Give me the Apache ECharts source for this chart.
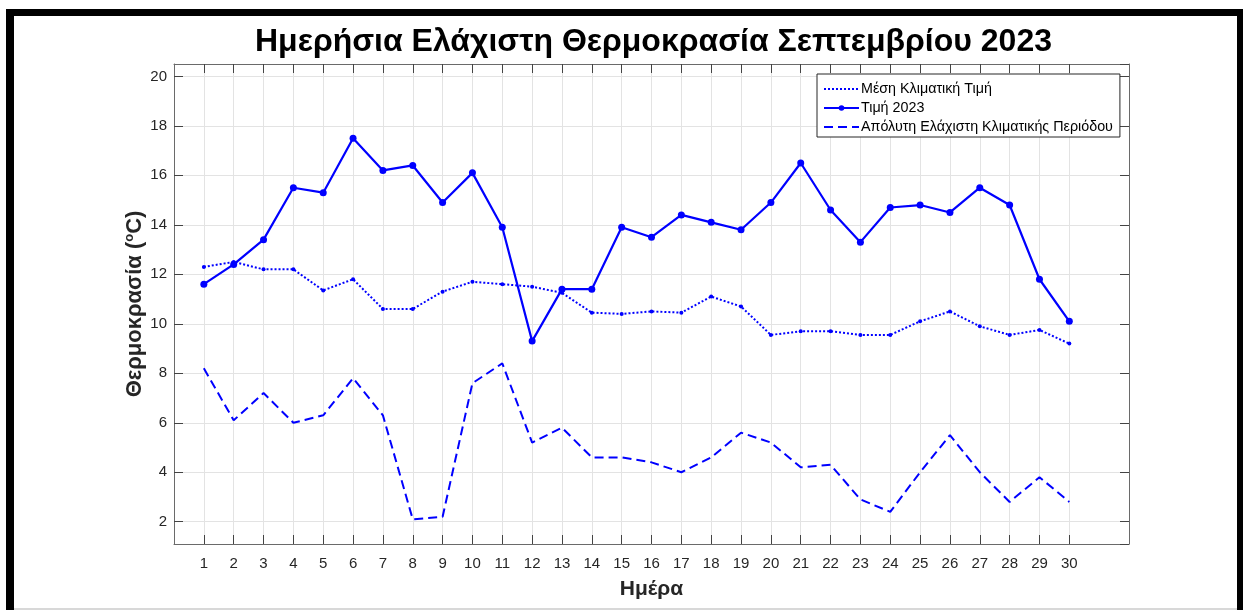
<!DOCTYPE html>
<html>
<head>
<meta charset="utf-8">
<script src="https://cdn.jsdelivr.net/npm/echarts@6/dist/echarts.min.js"></script>
<style>
  html, body { margin: 0; padding: 0; background: #fff; }
  #chart { width: 1243px; height: 610px; }
</style>
</head>
<body>
<div id="chart"></div>
<script>
// days of September 2023
const days = [1, 2, 3, 4, 5, 6, 7, 8, 9, 10, 11, 12, 13, 14, 15, 16, 17, 18, 19, 20, 21, 22, 23, 24, 25, 26, 27, 28, 29, 30];
// climatological mean of the daily minimum
const meanClim = [12.3, 12.5, 12.2, 12.2, 11.35, 11.8, 10.6, 10.6, 11.3, 11.7, 11.6, 11.5, 11.25, 10.45, 10.4, 10.5, 10.45, 11.1, 10.7, 9.55, 9.7, 9.7, 9.55, 9.55, 10.1, 10.5, 9.9, 9.55, 9.75, 9.2];
// 2023 values
const value2023 = [11.6, 12.4, 13.4, 15.5, 15.3, 17.5, 16.2, 16.4, 14.9, 16.1, 13.9, 9.3, 11.4, 11.4, 13.9, 13.5, 14.4, 14.1, 13.8, 14.9, 16.5, 14.6, 13.3, 14.7, 14.8, 14.5, 15.5, 14.8, 11.8, 10.1];
// absolute minimum of the climate period
const absMin = [8.2, 6.1, 7.2, 6.0, 6.3, 7.8, 6.3, 2.1, 2.2, 7.6, 8.4, 5.2, 5.8, 4.6, 4.6, 4.4, 4.0, 4.6, 5.6, 5.2, 4.2, 4.3, 2.9, 2.4, 4.0, 5.5, 4.0, 2.8, 3.8, 2.8];
const seriesNames = ['Μέση Κλιματική Τιμή', 'Τιμή 2023', 'Απόλυτη Ελάχιστη Κλιματικής Περιόδου'];

// x limits 0..32, ticks only on the days
const axisCats = [0].concat(days, [31, 32]).map(String);
const isDay = (idx) => idx >= 1 && idx <= days.length;

const yMin = 1.1;
const yMax = 20.5;

const blue = '#0000ff';
const axisColor = '#6a6a6a';
const textColor = '#262626';
const gridColor = '#e3e3e3';

const pairs = (vals) => days.map((d, i) => [String(d), vals[i]]);

const chart = echarts.init(document.getElementById('chart'));

const option = {
  animation: false,
  backgroundColor: '#fff',
  textStyle: { fontFamily: 'Liberation Sans, Arial, sans-serif' },
  title: {
    text: 'Ημερήσια Ελάχιστη Θερμοκρασία Σεπτεμβρίου 2023',
    left: 250,
    top: 21,
    textStyle: { fontSize: 32, fontWeight: 'bold', color: '#000' }
  },
  grid: { left: 174, right: 114, top: 64, bottom: 66 },
  legend: {
    orient: 'vertical',
    left: 817,
    top: 74,
    padding: [8, 7, 3, 6],
    itemGap: 5,
    itemWidth: 35,
    itemHeight: 7,
    borderColor: '#262626',
    borderWidth: 1,
    backgroundColor: '#fff',
    align: 'left',
    textStyle: { fontSize: 14.3, lineHeight: 14, color: '#000', padding: [0, 0, 0, -3] },
    data: [
      { name: seriesNames[0], itemStyle: { opacity: 0 } },
      { name: seriesNames[1] },
      { name: seriesNames[2], itemStyle: { opacity: 0 } }
    ]
  },
  xAxis: [
    {
      type: 'category',
      boundaryGap: false,
      data: axisCats,
      name: 'Ημέρα',
      nameLocation: 'middle',
      nameGap: 35,
      nameTextStyle: { fontSize: 21, fontWeight: 'bold', color: textColor },
      axisLine: { show: true, lineStyle: { color: axisColor } },
      axisTick: { show: true, inside: true, length: 9, interval: isDay, lineStyle: { color: '#444' } },
      axisLabel: { show: true, fontSize: 15, color: textColor, margin: 12, interval: isDay },
      splitLine: { show: true, interval: isDay, lineStyle: { color: gridColor } }
    },
    {
      type: 'category',
      position: 'top',
      boundaryGap: false,
      data: axisCats,
      axisLine: { show: true, lineStyle: { color: axisColor } },
      axisTick: { show: true, inside: true, length: 9, interval: isDay, lineStyle: { color: '#444' } },
      axisLabel: { show: false },
      splitLine: { show: false }
    }
  ],
  yAxis: [
    {
      type: 'value',
      min: yMin,
      max: yMax,
      splitNumber: 10,
      name: 'Θερμοκρασία ({sup|o}C)',
      nameLocation: 'middle',
      nameGap: 27,
      nameMoveOverlap: false,
      nameTextStyle: {
        fontSize: 22,
        fontWeight: 'bold',
        color: textColor,
        rich: { sup: { fontSize: 13, fontWeight: 'bold', color: textColor, verticalAlign: 'bottom', padding: [0, 0, 11, 0] } }
      },
      axisLine: { show: true, lineStyle: { color: axisColor } },
      axisTick: { show: true, inside: true, length: 9, lineStyle: { color: '#444' } },
      axisLabel: { fontSize: 15, color: textColor, margin: 7, showMinLabel: false, showMaxLabel: false },
      splitLine: { show: true, lineStyle: { color: gridColor } }
    },
    {
      type: 'value',
      position: 'right',
      min: yMin,
      max: yMax,
      splitNumber: 10,
      axisLine: { show: true, lineStyle: { color: axisColor } },
      axisTick: { show: true, inside: true, length: 9, lineStyle: { color: '#444' } },
      axisLabel: { show: false },
      splitLine: { show: false }
    }
  ],
  series: [
    {
      name: seriesNames[0],
      type: 'line',
      data: pairs(meanClim),
      symbol: 'circle',
      symbolSize: 4,
      showAllSymbol: true,
      itemStyle: { color: blue },
      lineStyle: { color: blue, width: 2, type: [2, 2] }
    },
    {
      name: seriesNames[1],
      type: 'line',
      data: pairs(value2023),
      symbol: 'circle',
      symbolSize: 7,
      showAllSymbol: true,
      itemStyle: { color: blue },
      lineStyle: { color: blue, width: 2.2 },
      z: 3
    },
    {
      name: seriesNames[2],
      type: 'line',
      data: pairs(absMin),
      symbol: 'none',
      itemStyle: { color: blue },
      lineStyle: { color: blue, width: 2, type: [9, 5] }
    }
  ],
  graphic: [
    { type: 'rect', shape: { x: 6, y: 9, width: 8, height: 601 }, style: { fill: '#000' }, silent: true },
    { type: 'rect', shape: { x: 6, y: 9, width: 1237, height: 7 }, style: { fill: '#000' }, silent: true },
    { type: 'rect', shape: { x: 1237, y: 9, width: 6, height: 601 }, style: { fill: '#000' }, silent: true },
    { type: 'rect', shape: { x: 14, y: 608, width: 1223, height: 2 }, style: { fill: '#d8d8d8' }, silent: true }
  ]
};

chart.setOption(option);
window.addEventListener('resize', () => {
  chart.resize();
});
</script>
</body>
</html>
